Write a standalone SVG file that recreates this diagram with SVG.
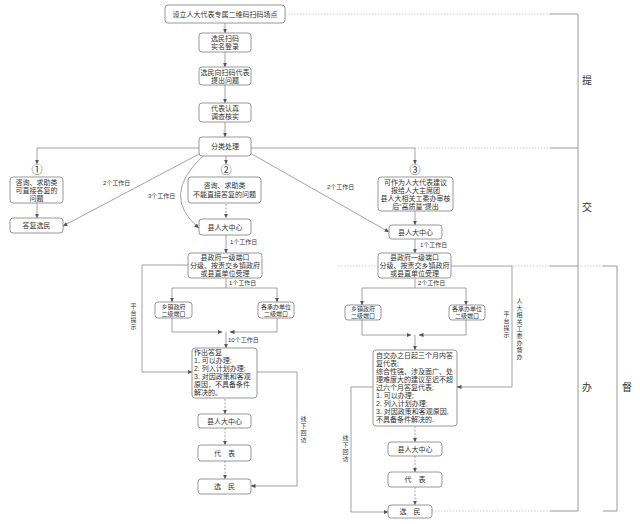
<svg xmlns="http://www.w3.org/2000/svg" width="640" height="524" viewBox="0 0 640 524">
<defs>
<marker id="arr" markerUnits="userSpaceOnUse" markerWidth="5" markerHeight="5" refX="4.5" refY="2.5" orient="auto"><path d="M0,0.4 L4.8,2.5 L0,4.6 z" fill="#555"/></marker>
<style>
.b{fill:#fff;stroke:#8c8c8c;stroke-width:0.9}
.l{fill:none;stroke:#8c8c8c;stroke-width:0.8}
.d{fill:none;stroke:#8c8c8c;stroke-width:0.8;stroke-dasharray:2 1.5}
.dot{fill:none;stroke:#c4c4c4;stroke-width:0.9;stroke-dasharray:1.5 1.5}
.br{fill:none;stroke:#9a9a9a;stroke-width:1}
text{font-family:"Liberation Sans","Noto Sans CJK SC",sans-serif;fill:#333;font-size:7px}
.c{text-anchor:middle}
.s{font-size:6px}
.v{writing-mode:vertical-rl;text-orientation:upright;font-size:6px;letter-spacing:1px}
.n{font-size:11px;text-anchor:middle}
.side{font-size:10px;text-anchor:middle}
</style>
</defs>
<rect width="640" height="524" fill="#fff"/>

<g id="connectors">
<path class="dot" d="M285,14 H550 M415,148 H550 M338,266 H378 M512,266 H550 M432,511 H550 M578,266 H603"/>
<path class="br" d="M550,14 H578 V511 H550 M550,148 H578 M550,266 H578 M603,266 H617 V511 H603"/>
<path class="l" marker-end="url(#arr)" d="M225,23 V33"/>
<path class="l" marker-end="url(#arr)" d="M225,52 V67"/>
<path class="l" marker-end="url(#arr)" d="M225,85 V103"/>
<path class="l" marker-end="url(#arr)" d="M225,122 V137"/>
<path class="l" marker-end="url(#arr)" d="M200,148 H37 V164"/>
<path class="l" marker-end="url(#arr)" d="M226,156 V164"/>
<path class="l" marker-end="url(#arr)" d="M250,148 H415 V164"/>
<path class="l" marker-end="url(#arr)" d="M37,203 V218"/>
<path class="l" marker-end="url(#arr)" d="M201,153 L63,226"/>
<path class="l" marker-end="url(#arr)" d="M203,156 Q160,196 199,228"/>
<path class="l" marker-end="url(#arr)" d="M250,153 L389,232"/>
<path class="d" marker-end="url(#arr)" d="M226,204 V218"/>
<path class="l" marker-end="url(#arr)" d="M415,211 V225"/>
<path class="l" marker-end="url(#arr)" d="M226,235 V253"/>
<path class="l" d="M226,278 V288 M172,288 H277"/>
<path class="l" marker-end="url(#arr)" d="M172,288 V302"/>
<path class="l" marker-end="url(#arr)" d="M277,288 V302"/>
<path class="l" marker-end="url(#arr)" d="M172,318 V332 H222"/>
<path class="l" marker-end="url(#arr)" d="M277,318 V332 H230"/>
<path class="l" marker-end="url(#arr)" d="M226,332 V348"/>
<path class="l" marker-end="url(#arr)" d="M188,265 H142 V372 H192"/>
<path class="l" marker-end="url(#arr)" d="M257,372 H297 V486 H251"/>
<path class="d" marker-end="url(#arr)" d="M225,399 V414"/>
<path class="d" marker-end="url(#arr)" d="M225,428 V445"/>
<path class="d" marker-end="url(#arr)" d="M225,461 V479"/>
<path class="l" marker-end="url(#arr)" d="M415,239 V253"/>
<path class="l" d="M415,278 V288 M362,288 H466"/>
<path class="l" marker-end="url(#arr)" d="M362,288 V305"/>
<path class="l" marker-end="url(#arr)" d="M466,288 V305"/>
<path class="l" marker-end="url(#arr)" d="M362,320 V335 H411"/>
<path class="l" marker-end="url(#arr)" d="M466,320 V335 H419"/>
<path class="l" marker-end="url(#arr)" d="M415,335 V350"/>
<path class="l" marker-end="url(#arr)" d="M451,266 H512 V387 H457"/>
<path class="l" marker-end="url(#arr)" d="M373,387 H351 V512 H388"/>
<path class="d" marker-end="url(#arr)" d="M415,426 V442"/>
<path class="d" marker-end="url(#arr)" d="M415,456 V472"/>
<path class="d" marker-end="url(#arr)" d="M415,487 V505"/>
<text class="s" x="103" y="185">2个工作日</text>
<text class="s" x="148" y="198">3个工作日</text>
<text class="s" x="327" y="189">2个工作日</text>
<text class="s" x="230" y="244">1个工作日</text>
<text class="s" x="420" y="247">1个工作日</text>
<text class="s" x="229" y="285">1个工作日</text>
<text class="s" x="418" y="285">2个工作日</text>
<text class="s" x="228" y="342">10个工作日</text>
<text class="v" x="133" y="303">平台提示</text>
<text class="v" x="303" y="416">线下回访</text>
<text class="v" x="345" y="435">线下回访</text>
<text class="v" x="506" y="311">平台提示</text>
<text class="v" x="519" y="298">人大相关工委办督办</text>
</g>

<g id="n-top"><rect class="b" x="165" y="5" width="120" height="18" rx="3"/><text class="c" x="225" y="16.5">设立人大代表专属二维码扫码场点</text></g>
<g id="n-scan"><rect class="b" x="199" y="33" width="52" height="19" rx="3"/><text class="c" x="225" y="41">选民扫码</text><text class="c" x="225" y="49">实名登录</text></g>
<g id="n-ask"><rect class="b" x="199" y="67" width="52" height="18" rx="3"/><text class="c" x="225" y="74.5">选民向扫码代表</text><text class="c" x="225" y="82.5">提出问题</text></g>
<g id="n-check"><rect class="b" x="199" y="103" width="52" height="19" rx="3"/><text class="c" x="225" y="111">代表认真</text><text class="c" x="225" y="119">调查核实</text></g>
<g id="n-classify"><rect class="b" x="199" y="137" width="52" height="19" rx="3"/><text class="c" x="225" y="149">分类处理</text></g>

<g id="n-c1"><text class="n" x="37" y="174">①</text></g>
<g id="n-c2"><text class="n" x="226" y="174">②</text></g>
<g id="n-c3"><text class="n" x="415" y="174">③</text></g>

<g id="n-direct"><rect class="b" x="10" y="177" width="53" height="26" rx="3"/><text class="c" x="36.5" y="184.5">咨询、求助类</text><text class="c" x="36.5" y="192.5">可直接答复的</text><text class="c" x="36.5" y="200.5">问题</text></g>
<g id="n-reply"><rect class="b" x="10" y="218" width="53" height="15" rx="3"/><text class="c" x="36.5" y="228">答复选民</text></g>
<g id="n-indirect"><rect class="b" x="188" y="177" width="73" height="26" rx="3"/><text class="c" x="224.5" y="188">咨询、求助类</text><text class="c" x="224.5" y="197">不能直接答复的问题</text></g>
<g id="n-center-l"><rect class="b" x="199" y="219" width="52" height="16" rx="3"/><text class="c" x="225" y="229.5">县人大中心</text></g>
<g id="n-suggest"><rect class="b" x="378" y="177" width="75" height="34" rx="3"/><text class="c" x="415.5" y="184.5">可作为人大代表建议</text><text class="c" x="415.5" y="192.5">报给人大主席团</text><text class="c" x="415.5" y="200.5">县人大相关工委办审核</text><text class="c" x="415.5" y="208.5">后“高质量”提出</text></g>
<g id="n-center-r"><rect class="b" x="389" y="225" width="53" height="14" rx="3"/><text class="c" x="415.5" y="234.5">县人大中心</text></g>

<g id="n-gov-l"><rect class="b" x="188" y="253" width="74" height="25" rx="3"/><text class="c" x="225" y="260">县政府一级端口</text><text class="c" x="225" y="268">分级、按责交乡镇政府</text><text class="c" x="225" y="276">或县直单位受理</text></g>
<g id="n-town-l"><rect class="b" x="155" y="302" width="37" height="16" rx="3"/><text class="c s" x="173.5" y="308.5">乡镇政府</text><text class="c s" x="173.5" y="315.5">二级端口</text></g>
<g id="n-unit-l"><rect class="b" x="258" y="302" width="36" height="16" rx="3"/><text class="c s" x="276" y="308.5">各承办单位</text><text class="c s" x="276" y="315.5">二级端口</text></g>
<g id="n-answer-l"><rect class="b" x="192" y="348" width="65" height="50" rx="3"/><text x="194" y="355">作出答复</text><text x="194" y="363">1. 可以办理;</text><text x="194" y="371">2. 列入计划办理;</text><text x="194" y="379">3. 对因政策和客观</text><text x="194" y="387">原因，不具备条件</text><text x="194" y="395">解决的。</text></g>
<g id="n-center-l2"><rect class="b" x="198" y="414" width="53" height="14" rx="3"/><text class="c" x="224.5" y="423.5">县人大中心</text></g>
<g id="n-rep-l"><rect class="b" x="198" y="445" width="53" height="16" rx="3"/><text class="c" x="224.5" y="455.5">代　表</text></g>
<g id="n-voter-l"><rect class="b" x="198" y="479" width="53" height="15" rx="3"/><text class="c" x="224.5" y="489">选　民</text></g>

<g id="n-gov-r"><rect class="b" x="378" y="253" width="73" height="25" rx="3"/><text class="c" x="414.5" y="260">县政府一级端口</text><text class="c" x="414.5" y="268">分级、按责交乡镇政府</text><text class="c" x="414.5" y="276">或县直单位受理</text></g>
<g id="n-town-r"><rect class="b" x="345" y="305" width="36" height="15" rx="3"/><text class="c s" x="363" y="311">乡镇政府</text><text class="c s" x="363" y="318">二级端口</text></g>
<g id="n-unit-r"><rect class="b" x="449" y="305" width="36" height="15" rx="3"/><text class="c s" x="467" y="311">各承办单位</text><text class="c s" x="467" y="318">二级端口</text></g>
<g id="n-answer-r"><rect class="b" x="373" y="350" width="84" height="76" rx="3"/><text x="376" y="357.5">自交办之日起三个月内答</text><text x="376" y="365.5">复代表;</text><text x="376" y="373.5">综合性强、涉及面广、处</text><text x="376" y="381.5">理难度大的建议至迟不超</text><text x="376" y="389.5">过六个月答复代表;</text><text x="376" y="397.5">1. 可以办理;</text><text x="376" y="405.5">2. 列入计划办理;</text><text x="376" y="413.5">3. 对因政策和客观原因,</text><text x="376" y="421.5">不具备条件解决的.</text></g>
<g id="n-center-r2"><rect class="b" x="388" y="442" width="54" height="14" rx="3"/><text class="c" x="415" y="451.5">县人大中心</text></g>
<g id="n-rep-r"><rect class="b" x="388" y="472" width="54" height="15" rx="3"/><text class="c" x="415" y="482">代　表</text></g>
<g id="n-voter-r"><rect class="b" x="388" y="505" width="44" height="13" rx="3"/><text class="c" x="410" y="514">选　民</text></g>

<g id="side-labels"><text class="side" x="587" y="84">提</text><text class="side" x="587" y="211">交</text><text class="side" x="587" y="391">办</text><text class="side" x="627" y="391">督</text></g>
</svg>
